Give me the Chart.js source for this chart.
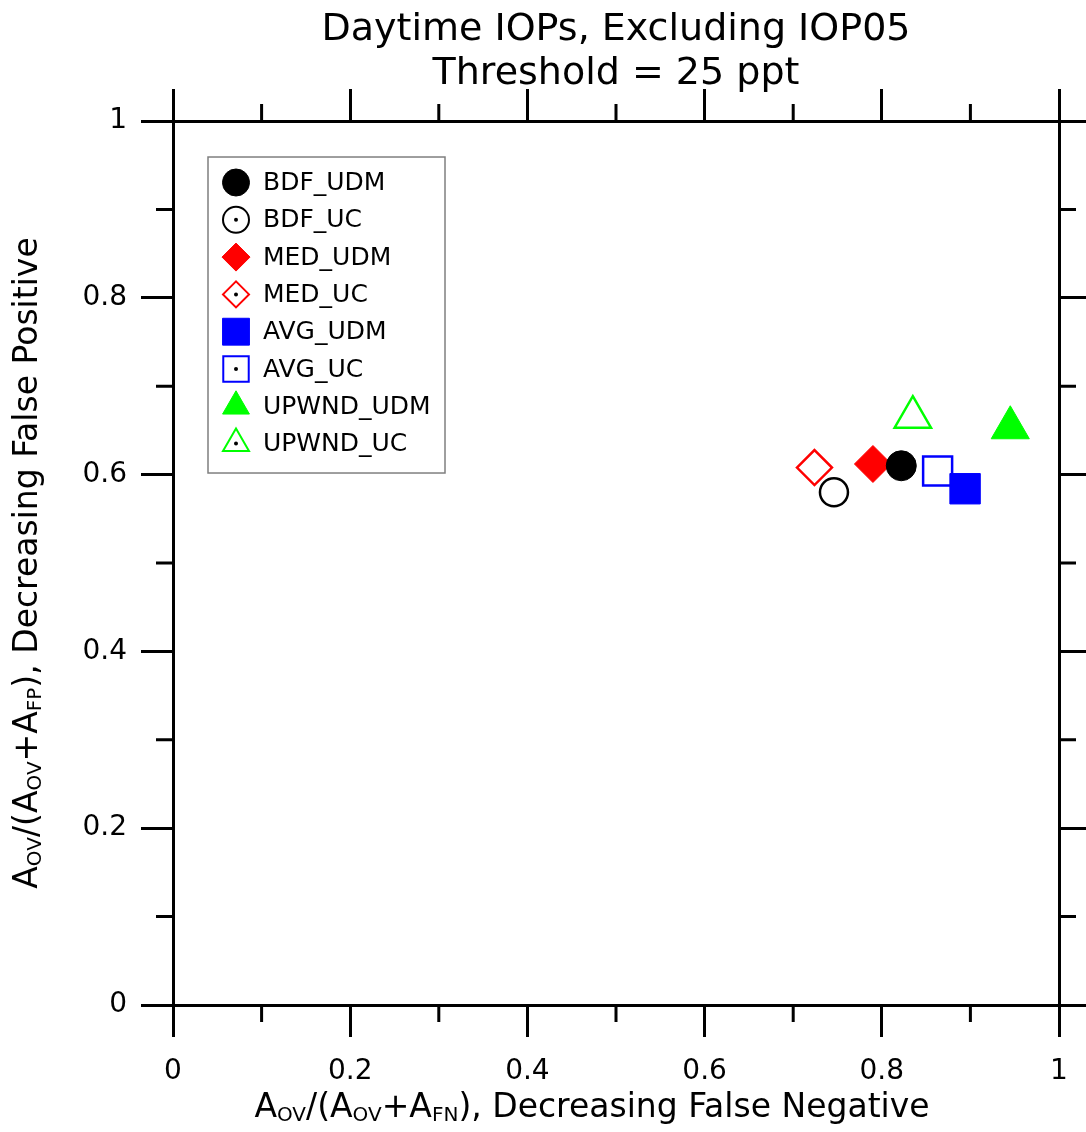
<!DOCTYPE html>
<html>
<head>
<meta charset="utf-8">
<script src="https://cdn.jsdelivr.net/npm/chart.js@4.4.0/dist/chart.umd.min.js"></script>
<style>
  html, body { margin: 0; padding: 0; background: #fff; }
</style>
</head>
<body>
<canvas id="myChart" width="1086" height="1132"></canvas>
<script>
// series, in legend order
var names = ['BDF_UDM', 'BDF_UC', 'MED_UDM', 'MED_UC', 'AVG_UDM', 'AVG_UC', 'UPWND_UDM', 'UPWND_UC'];
// Aov/(Aov+Afn)
var xVals = [0.822, 0.746, 0.790, 0.724, 0.894, 0.863, 0.945, 0.835];
// Aov/(Aov+Afp)
var yVals = [0.610, 0.580, 0.612, 0.608, 0.584, 0.604, 0.653, 0.665];
// axis ticks
var majorTicks = [0, 0.2, 0.4, 0.6, 0.8, 1];
var minorTicks = [0.1, 0.3, 0.5, 0.7, 0.9];

// marker look for each series
var markers = [
  { color: '#000000', shape: 'circle',   fill: true,  r: 15,   lr: 13.5 },
  { color: '#000000', shape: 'circle',   fill: false, r: 14,   lr: 13 },
  { color: '#ff0000', shape: 'rectRot',  fill: true,  r: 18.5, lr: 14 },
  { color: '#ff0000', shape: 'rectRot',  fill: false, r: 17.5, lr: 13 },
  { color: '#0000ff', shape: 'rect',     fill: true,  r: 21.5, lr: 19 },
  { color: '#0000ff', shape: 'rect',     fill: false, r: 20.5, lr: 18 },
  { color: '#00ff00', shape: 'triangle', fill: true,  r: 22,   lr: 15.5 },
  { color: '#00ff00', shape: 'triangle', fill: false, r: 21,   lr: 15 }
];

var FONT = '"DejaVu Sans", Verdana, sans-serif';

var datasets = names.map(function (n, i) {
  var m = markers[i];
  return {
    label: n,
    data: [{ x: xVals[i], y: yVals[i] }],
    pointStyle: m.shape,
    pointRadius: m.r,
    pointHoverRadius: m.r,
    backgroundColor: m.fill ? m.color : 'rgba(0,0,0,0)',
    borderColor: m.color,
    borderWidth: m.fill ? 1 : 2.5,
    clip: false
  };
});

function fmt(v) { return String(Math.round(v * 10) / 10); }

function axis(pos, showLabels, size) {
  var horiz = pos === 'top' || pos === 'bottom';
  return {
    type: 'linear',
    position: pos,
    min: 0,
    max: 1,
    afterBuildTicks: function (s) { s.ticks = majorTicks.map(function (v) { return { value: v }; }); },
    afterFit: function (s) { if (horiz) { s.height = size; } else { s.width = size; } },
    border: { display: true, width: 3, color: '#000' },
    grid: { drawOnChartArea: false, drawTicks: true, tickLength: 32, tickWidth: 3, lineWidth: 3, tickColor: '#000', color: '#000' },
    ticks: {
      display: showLabels,
      padding: horiz ? 18 : 14,
      color: '#000',
      font: { family: FONT, size: 28 },
      callback: fmt
    }
  };
}

// short ticks between the labelled ones, on all four sides
var minorTickPlugin = {
  id: 'minorTicks',
  afterDraw: function (chart) {
    var ctx = chart.ctx, ca = chart.chartArea;
    ctx.save();
    ctx.strokeStyle = '#000';
    ctx.lineWidth = 3;
    ctx.beginPath();
    minorTicks.forEach(function (v) {
      var px = chart.scales.x.getPixelForValue(v);
      var py = chart.scales.y.getPixelForValue(v);
      ctx.moveTo(px, ca.bottom); ctx.lineTo(px, ca.bottom + 17);
      ctx.moveTo(px, ca.top); ctx.lineTo(px, ca.top - 17);
      ctx.moveTo(ca.left, py); ctx.lineTo(ca.left - 17, py);
      ctx.moveTo(ca.right, py); ctx.lineTo(ca.right + 17, py);
    });
    ctx.stroke();
    ctx.restore();
  }
};

// axis titles with subscripts
function drawRich(ctx, parts, cx, y) {
  var main = '33px ' + FONT, sub = '20px ' + FONT;
  var w = 0;
  parts.forEach(function (p) { ctx.font = p[1] ? sub : main; w += ctx.measureText(p[0]).width; });
  var x = cx - w / 2;
  ctx.textAlign = 'left';
  ctx.textBaseline = 'alphabetic';
  parts.forEach(function (p) {
    ctx.font = p[1] ? sub : main;
    ctx.fillText(p[0], x, y + (p[1] ? 4 : 0));
    x += ctx.measureText(p[0]).width;
  });
}

var axisTitlePlugin = {
  id: 'axisTitles',
  afterDraw: function (chart) {
    var ctx = chart.ctx, ca = chart.chartArea;
    ctx.save();
    ctx.fillStyle = '#000';
    drawRich(ctx, [['A'], ['OV', 1], ['/(A'], ['OV', 1], ['+A'], ['FN', 1], ['), Decreasing False Negative']],
      (ca.left + ca.right) / 2 - 24, 1117);
    ctx.translate(37, (ca.top + ca.bottom) / 2);
    ctx.rotate(-Math.PI / 2);
    drawRich(ctx, [['A'], ['OV', 1], ['/(A'], ['OV', 1], ['+A'], ['FP', 1], ['), Decreasing False Positive']], 0, 0);
    ctx.restore();
  }
};

// boxed legend inside the plot, open symbols get a centre dot
var boxLegendPlugin = {
  id: 'boxLegend',
  afterDraw: function (chart) {
    var ctx = chart.ctx, ca = chart.chartArea;
    var left = ca.left + 35, top = ca.top + 36, w = 237, h = 316;
    ctx.save();
    ctx.fillStyle = '#fff';
    ctx.fillRect(left, top, w, h);
    ctx.strokeStyle = '#7f7f7f';
    ctx.lineWidth = 1.5;
    ctx.strokeRect(left, top, w, h);
    chart.data.datasets.forEach(function (ds, i) {
      var m = markers[i];
      var y = top + 25.5 + i * 37.3;
      var x = left + 28;
      ctx.fillStyle = m.fill ? m.color : '#fff';
      ctx.strokeStyle = m.color;
      ctx.lineWidth = m.fill ? 1 : 2;
      Chart.helpers.drawPoint(ctx, { pointStyle: m.shape, radius: m.lr, rotation: 0, borderWidth: ctx.lineWidth }, x, y);
      if (!m.fill) {
        ctx.fillStyle = '#000';
        ctx.beginPath();
        ctx.arc(x, y, 2, 0, Math.PI * 2);
        ctx.fill();
      }
      ctx.fillStyle = '#000';
      ctx.font = '25px ' + FONT;
      ctx.textAlign = 'left';
      ctx.textBaseline = 'middle';
      ctx.fillText(ds.label, left + 55, y + 1);
    });
    ctx.restore();
  }
};

var ctx = document.getElementById('myChart');
var myChart = new Chart(ctx, {
  type: 'scatter',
  data: { datasets: datasets },
  options: {
    responsive: false,
    devicePixelRatio: 1,
    animation: false,
    layout: { padding: 0 },
    scales: {
      x: axis('bottom', true, 127),
      x2: axis('top', false, 25),
      y: axis('left', true, 173),
      y2: axis('right', false, 27)
    },
    plugins: {
      legend: { display: false },
      tooltip: { enabled: false },
      title: {
        display: true,
        fullSize: false,
        text: ['Daytime IOPs, Excluding IOP05', 'Threshold = 25 ppt'],
        color: '#000',
        font: { family: FONT, size: 38, weight: 'normal', lineHeight: 1.158 },
        padding: { top: 8, bottom: 0 }
      }
    }
  },
  plugins: [minorTickPlugin, axisTitlePlugin, boxLegendPlugin]
});
</script>
</body>
</html>
